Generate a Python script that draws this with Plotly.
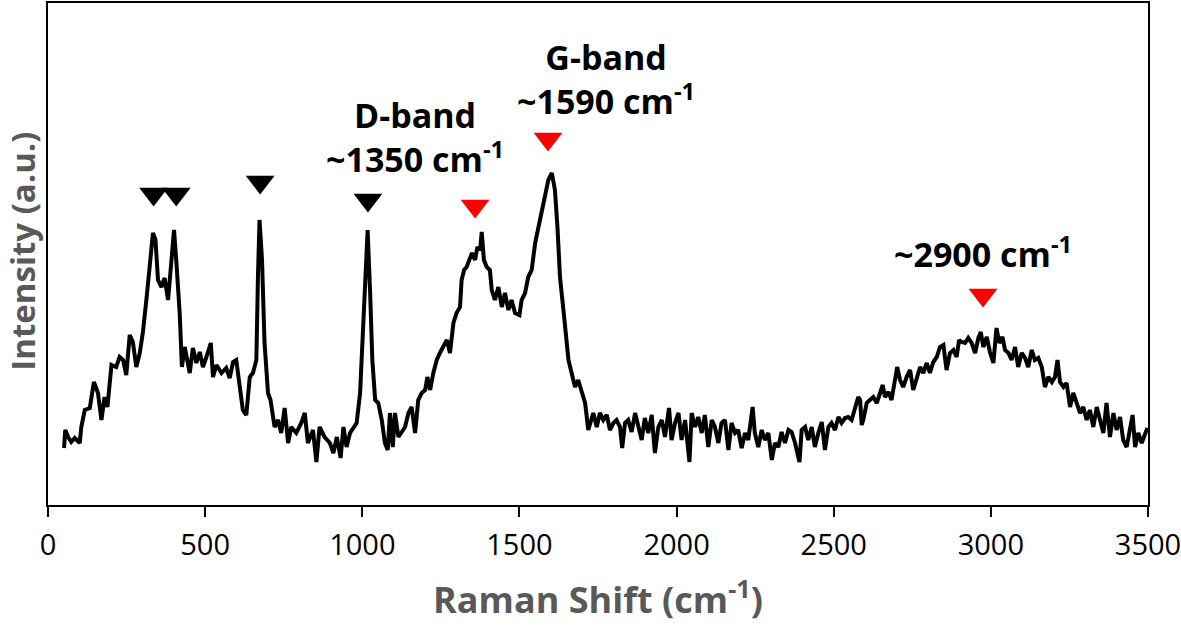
import plotly.graph_objects as go

# Raman spectrum, x in cm^-1, intensity in arbitrary units
raman_shift = [
    51, 55, 64, 74, 85, 101, 106, 117, 133, 146, 159, 170, 180, 189, 202, 217, 228, 239, 249, 260,
    270, 281, 292, 302, 313, 323, 334, 342, 350, 361, 371, 382, 392, 401, 408, 419, 426, 435, 443, 451,
    461, 472, 483, 493, 504, 518, 525, 536, 552, 567, 578, 589, 599, 610, 620, 631, 642, 652, 663, 668,
    673, 681, 689, 700, 708, 721, 732, 742, 753, 764, 774, 790, 806, 817, 827, 843, 854, 864, 880,
    897, 908, 919, 931, 940, 950, 961, 972, 982, 993, 1001, 1009, 1017, 1025, 1032, 1041, 1051, 1062, 1072, 1081,
    1088, 1097, 1104, 1115, 1125, 1136, 1147, 1157, 1168, 1178, 1189, 1200, 1207, 1216, 1226, 1237, 1247, 1258, 1269, 1279,
    1290, 1300, 1311, 1316, 1324, 1332, 1341, 1349, 1359, 1366, 1375, 1380, 1387, 1396, 1406, 1412, 1422, 1433, 1444, 1454,
    1465, 1475, 1486, 1500, 1507, 1518, 1528, 1539, 1550, 1560, 1571, 1581, 1592, 1603, 1613, 1621, 1629, 1640, 1648, 1656,
    1666, 1677, 1687, 1698, 1709, 1719,
    1735, 1746, 1756, 1767, 1778, 1788, 1799, 1809, 1820, 1827, 1836, 1846, 1857, 1868, 1878, 1889, 1899, 1910, 1921, 1931,
    1942, 1953, 1963, 1976, 1984, 1995, 2006, 2016, 2027, 2041, 2048, 2059, 2069, 2080, 2090, 2101, 2112, 2122, 2133, 2143,
    2154, 2165, 2175, 2186, 2196, 2207, 2218, 2228, 2242, 2249, 2260, 2271, 2281, 2292, 2303, 2313, 2324, 2334, 2345, 2356,
    2366, 2377, 2391, 2398, 2409, 2419, 2430, 2440, 2451, 2462, 2472, 2483, 2493, 2504, 2515, 2525, 2536, 2546, 2557, 2568,
    2578,
    2584, 2589, 2594, 2605, 2615, 2626, 2637, 2647, 2656, 2663, 2674, 2684, 2695, 2702, 2711, 2721, 2732, 2743, 2753, 2764,
    2775, 2785, 2796, 2806, 2817, 2828, 2838, 2849, 2859, 2870, 2881, 2891, 2899, 2907, 2918, 2928, 2939, 2950, 2960, 2968,
    2976, 2987, 2997, 3008, 3018, 3027, 3037, 3045, 3056, 3066, 3077, 3087, 3098, 3109, 3119, 3130, 3140, 3151, 3162, 3172,
    3183, 3194, 3204, 3212, 3220, 3231, 3241, 3252, 3262, 3273, 3284, 3294, 3305, 3315, 3326, 3337, 3347, 3358, 3368, 3379,
    3390, 3400, 3411, 3421, 3432, 3443, 3451, 3459, 3469, 3480, 3490, 3498,
]
intensity = [
    57, 75, 68, 63, 67, 62, 78, 95, 97, 123, 112, 85, 108, 98, 140, 138, 148, 145, 130, 170,
    163, 138, 152, 173, 205, 242, 272, 265, 225, 218, 227, 205, 238, 275, 245, 192, 138, 158, 145, 132,
    157, 142, 153, 138, 148, 162, 128, 140, 132, 137, 127, 143, 145, 118, 95, 90, 128, 132, 145, 228,
    285, 245, 162, 112, 105, 78, 85, 72, 97, 62, 78, 72, 82, 92, 62, 75, 43, 78, 68,
    62, 52, 68, 47, 78, 58, 72, 78, 82, 112, 172, 228, 275, 212, 145, 105, 102, 85, 62, 55,
    92, 58, 92, 68, 73, 78, 92, 98, 72, 105, 112, 115, 128, 115, 132, 145, 152, 158, 165, 152,
    182, 192, 198, 225, 235, 238, 245, 252, 245, 258, 255, 273, 245, 238, 235, 215, 205, 218, 198, 212,
    195, 205, 192, 190, 205, 212, 228, 235, 262, 278, 295, 312, 325, 332, 315, 278, 228, 195, 172, 145,
    132, 118, 125, 112, 102, 75,
    92, 78, 92, 85, 90, 75, 82, 85, 78, 57, 82, 85, 73, 92, 78, 65, 87, 72, 90, 52,
    78, 85, 68, 97, 65, 82, 92, 65, 85, 43, 92, 78, 88, 72, 90, 58, 85, 78, 62, 82,
    85, 55, 82, 72, 75, 57, 72, 65, 98, 72, 58, 75, 65, 72, 45, 62, 58, 73, 62, 75,
    73, 62, 43, 75, 78, 65, 78, 58, 72, 83, 55, 78, 82, 75, 88, 82, 87, 88, 85, 98,
    108,
    105, 80, 85, 102, 105, 108, 102, 112, 120, 108, 113, 105, 128, 138, 125, 118, 128, 135, 115, 125,
    138, 132, 142, 132, 143, 148, 158, 160, 135, 152, 155, 148, 165, 163, 162, 167, 162, 152, 167, 173,
    158, 168, 153, 142, 177, 162, 168, 155, 152, 145, 158, 138, 152, 147, 138, 155, 145, 147, 138, 118,
    128, 123, 128, 145, 123, 118, 122, 98, 112, 102, 92, 98, 85, 95, 78, 98, 85, 72, 102, 68,
    92, 75, 88, 65, 58, 75, 90, 58, 72, 62, 70, 77,
]

# Peak markers
black_peak_x = [336, 408, 675, 1018]
black_peak_y = [311, 311, 323, 305]
red_peak_x = [1359, 1591, 2975]
red_peak_y = [299, 366, 210]

# Peak labels
label_text = ["D-band<br>~1350 cm<sup>-1</sup>", "G-band<br>~1590 cm<sup>-1</sup>", "~2900 cm<sup>-1</sup>"]
label_x = [1168, 1775, 2975]
label_y = [368, 426, 253]

x_ticks = [0, 500, 1000, 1500, 2000, 2500, 3000, 3500]

fig = go.Figure()
fig.add_trace(go.Scatter(x=raman_shift, y=intensity, mode="lines",
                         line=dict(color="black", width=4), showlegend=False))
fig.add_trace(go.Scatter(x=black_peak_x, y=black_peak_y, mode="markers",
                         marker=dict(symbol="triangle-down", size=25, color="black", line=dict(width=0)),
                         showlegend=False))
fig.add_trace(go.Scatter(x=red_peak_x, y=red_peak_y, mode="markers",
                         marker=dict(symbol="triangle-down", size=25, color="#ff0000", line=dict(width=0)),
                         showlegend=False))

for t, x, y in zip(label_text, label_x, label_y):
    fig.add_annotation(x=x, y=y, xref="x", yref="y", text=t, showarrow=False,
                       font=dict(family="Open Sans", size=34, color="black", weight="bold"),
                       align="center")

# y-axis title (placed as a rotated annotation in the left margin)
fig.add_annotation(x=-0.0235, y=0.505, xref="paper", yref="paper", xanchor="center", yanchor="middle",
                   text="<b>Intensity (a.u.)</b>", textangle=-90, showarrow=False,
                   font=dict(family="Open Sans", size=33, color="#595959"))

fig.update_layout(
    width=1181, height=626,
    margin=dict(l=48, r=33, t=3, b=121),
    paper_bgcolor="white", plot_bgcolor="white",
    font=dict(family="Open Sans", color="black"),
)
fig.update_xaxes(range=[0, 3500], tickvals=x_ticks, ticks="outside", ticklen=10, tickwidth=2,
                 tickcolor="black", showline=True, linecolor="black", linewidth=2, mirror=True,
                 showgrid=False, zeroline=False, tickfont=dict(size=29, color="black"),
                 ticklabelstandoff=3, ticklabeloverflow="allow", automargin=False,
                 title=dict(text="<b>Raman Shift (cm<sup>-1</sup>)</b>", standoff=26,
                            font=dict(size=36, color="#595959")))
fig.update_yaxes(range=[0, 502], showticklabels=False, ticks="", showline=True, linecolor="black",
                 linewidth=2, mirror=True, showgrid=False, zeroline=False, automargin=False)

fig.write_html("out.html", config={"displayModeBar": False},
               post_script="document.body.style.margin='0';")
